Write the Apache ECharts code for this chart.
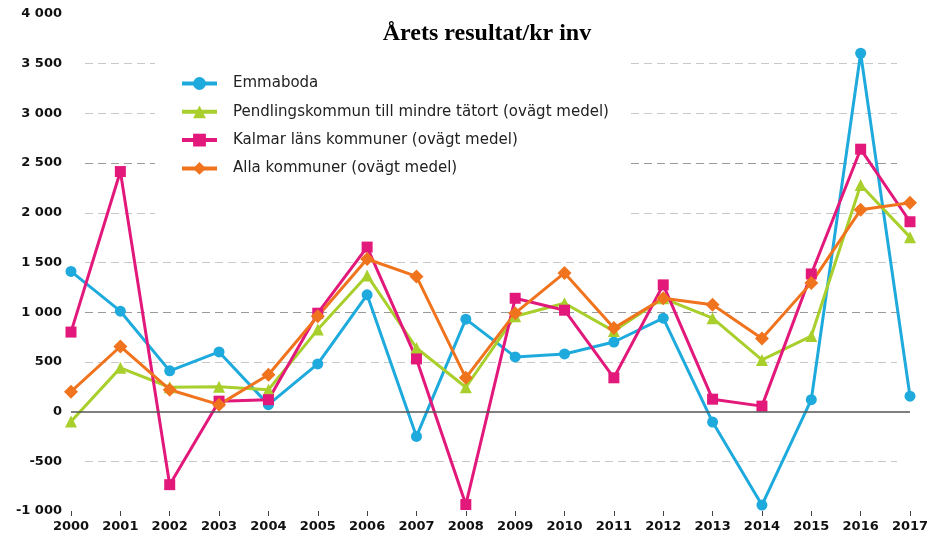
<!DOCTYPE html>
<html><head><meta charset="utf-8">
<script src="https://cdn.jsdelivr.net/npm/echarts@6/dist/echarts.min.js"></script>
<style>html,body{margin:0;padding:0;background:#fff}#c{width:944px;height:537px}</style>
</head><body><div id="c"></div>
<script>
const years = ['2000','2001','2002','2003','2004','2005','2006','2007','2008','2009','2010','2011','2012','2013','2014','2015','2016','2017'];
const emmaboda = [1410,1010,410,600,70,480,1175,-250,930,550,580,700,940,-105,-940,120,3605,155];
const pendling = [-100,440,245,250,220,825,1370,640,245,960,1090,810,1140,940,520,760,2280,1755];
const kalmar = [800,2415,-735,105,120,990,1655,530,-935,1140,1020,340,1275,125,55,1385,2640,1910];
const alla = [200,655,220,70,370,960,1535,1360,340,990,1395,840,1140,1075,735,1295,2030,2100];
const names = ['Emmaboda','Pendlingskommun till mindre tätort (ovägt medel)','Kalmar läns kommuner (ovägt medel)','Alla kommuner (ovägt medel)'];
const titleText = 'Årets resultat/kr inv';

const chart = echarts.init(document.getElementById('c'), null, {renderer:'canvas'});
const fmt = v => { const s = Math.abs(v).toString().replace(/\B(?=(\d{3})+(?!\d))/g, ' '); return (v<0?'-':'') + s; };
const gl = '#c8c8c8', gd = '#9a9a9a', tr = 'rgba(0,0,0,0)';
function mk(name, data, color, symbol, size, extra){
  return Object.assign({
    name, type:'line', data, xAxisIndex:0, yAxisIndex:0,
    symbol, symbolSize:size, showSymbol:true,
    lineStyle:{color, width:3}, itemStyle:{color},
    emphasis:{disabled:true}, animation:false
  }, extra||{});
}
chart.setOption({
  animation:false,
  title:{text:titleText, left:482, top:17, textAlign:'center',
    textStyle:{fontFamily:'Liberation Serif', fontWeight:'bold', fontSize:24, color:'#000'}},
  legend:{orient:'vertical', left:155, top:57, padding:[19,20,44,25],
    backgroundColor:'#fff', itemWidth:35, itemHeight:16, itemGap:13.3,
    lineStyle:{width:4},
    textStyle:{fontFamily:'DejaVu Sans', fontSize:15, color:'#222', padding:[0,0,0,11]},
    data:names},
  grid:[
    {left:71, right:34, top:14, bottom:26, containLabel:false},
    {left:85, right:47, top:14, bottom:26, containLabel:false}
  ],
  xAxis:[
    {type:'category', gridIndex:0, data:years, boundaryGap:false,
      axisLine:{show:false, onZero:false},
      axisTick:{show:true, length:5, inside:false, lineStyle:{color:'#444'}},
      axisLabel:{fontFamily:'DejaVu Sans', fontSize:13, color:'#111', margin:9, fontWeight:'bold'},
      splitLine:{show:false}},
    {type:'value', gridIndex:1, min:0, max:1, show:false}
  ],
  yAxis:[
    {type:'value', gridIndex:0, min:-1000, max:4000, interval:500,
      axisLine:{show:false}, axisTick:{show:false},
      axisLabel:{fontFamily:'DejaVu Sans', fontSize:13, color:'#111', margin:9, fontWeight:'bold', formatter:fmt},
      splitLine:{show:false}},
    {type:'value', gridIndex:1, min:-1000, max:4000, interval:500,
      axisLine:{show:false}, axisTick:{show:false}, axisLabel:{show:false},
      splitLine:{show:true, lineStyle:{type:[8,5], width:1,
        color:[tr,gl,tr,gl,gd,gl,gl,gd,gl,gl,tr]}}}
  ],
  series:[
    mk(names[0], emmaboda, '#1eaadc', 'circle', 11, {
      markLine:{silent:true, symbol:['none','none'], label:{show:false},
        lineStyle:{color:'#555', type:'solid', width:1.5}, data:[{yAxis:0}]}}),
    mk(names[1], pendling, '#a8cf2c', 'triangle', 12),
    mk(names[2], kalmar, '#e2187b', 'rect', 11),
    mk(names[3], alla, '#f0731e', 'diamond', 14)
  ]
});
</script></body></html>
